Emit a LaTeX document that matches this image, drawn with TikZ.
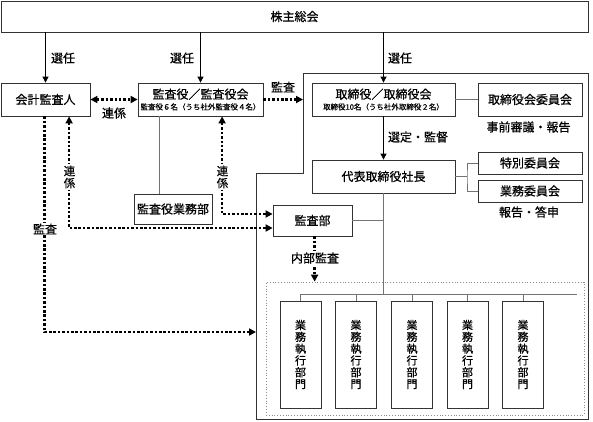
\documentclass[tikz,border=0pt]{standalone}
\usepackage{fontspec}
\setmainfont{Noto Sans CJK JP}[FakeBold=0.6]
\usetikzlibrary{arrows.meta}
\begin{document}
\begin{tikzpicture}[x=1pt,y=-1pt,
  box/.style={draw=black!80, line width=0.8pt, fill=white, inner sep=0pt, font=\fontsize{12}{14}\selectfont},
  unit/.style={box, minimum width=41pt, minimum height=107pt, align=center, font=\fontsize{11}{11.8}\selectfont},
  con/.style={draw=black!55, line width=0.8pt},
  outline/.style={draw=black!80, line width=0.8pt},
  arr/.style={draw=black, line width=0.8pt, -{Triangle[length=6pt,width=6pt]}},
  dot/.style={draw=black, line width=2.5pt, dash pattern=on 2.5pt off 1.9pt},
  dotarr/.style={dot, -{Triangle[length=7pt,width=7pt]}},
  dbl/.style={dot, {Triangle[length=7pt,width=7pt]}-{Triangle[length=7pt,width=7pt]}},
  lbl/.style={font=\fontsize{12}{14}\selectfont, inner sep=1pt},
  vlbl/.style={font=\fontsize{11.5}{12}\selectfont, inner sep=1.5pt, fill=white, align=center}
]
\useasboundingbox (0,0) rectangle (593,421);

% outer boundary of the executive area
\coordinate (ob1) at (303,73);
\coordinate (ob2) at (588,73);
\coordinate (ob3) at (588,419);
\coordinate (ob4) at (256,419);
\coordinate (ob5) at (256,173);
\coordinate (ob6) at (303,173);
\draw[outline] (ob1) -- (ob2) -- (ob3) -- (ob4) -- (ob5) -- (ob6) -- cycle;

% container of business units
\node[draw=black!45, dotted, line width=0.8pt, minimum width=318pt, minimum height=133pt, inner sep=0pt] (unitsbox) at (425,348.5) {};

% nodes
\node[box, minimum width=587pt, minimum height=31pt] (soukai) at (294.5,16.5) {株主総会};
\node[box, minimum width=89pt, minimum height=33pt] (kaikei) at (45.5,99.5) {会計監査人};
\node[box, minimum width=125pt, minimum height=33pt, align=center] (kansayaku) at (200.5,99.5)
  {監査役／監査役会\\[-3pt]{\fontsize{7.5}{9}\selectfont 監査役６名（うち社外監査役４名）}};
\node[box, minimum width=143pt, minimum height=33pt, align=center] (torishimari) at (383.5,99.5)
  {取締役／取締役会\\[-3pt]{\fontsize{7.5}{9}\selectfont 取締役10名（うち社外取締役２名）}};
\node[box, minimum width=104pt, minimum height=33pt] (iinkai) at (530,99.5) {取締役会委員会};
\node[box, minimum width=143pt, minimum height=33pt] (shacho) at (383.5,176.5) {代表取締役社長};
\node[box, minimum width=104pt, minimum height=22pt] (tokubetsu) at (530,163) {特別委員会};
\node[box, minimum width=104pt, minimum height=22pt] (gyomu) at (530,191) {業務委員会};
\node[box, minimum width=78pt, minimum height=30pt] (kansagyomu) at (173,209) {監査役業務部};
\node[box, minimum width=79pt, minimum height=31pt] (kansabu) at (312.5,220.5) {監査部};
\foreach \i/\x in {1/300.5,2/356,3/412,4/467.5,5/523}
  \node[unit] (u\i) at (\x,354.5) {業\\務\\執\\行\\部\\門};

% solid connectors
\draw[arr] (soukai.south -| kaikei.north) -- (kaikei.north);
\draw[arr] (soukai.south -| kansayaku.north) -- (kansayaku.north);
\draw[arr] (soukai.south -| torishimari.north) -- (torishimari.north);
\draw[con] (torishimari.east) -- (iinkai.west);
\draw[arr] (torishimari.south) -- (shacho.north);
\coordinate (sj) at (467,176.5);
\draw[con] (shacho.east) -- (sj);
\draw[con] (tokubetsu.west) -| (sj) |- (gyomu.west);
\path (kansagyomu.north west) ++(26,0) coordinate (kg);
\draw[con] (kg) -- (kg |- kansayaku.south);
\coordinate (bus) at (383.5,294);
\coordinate (busR) at (577,294);
\draw[con] (shacho.south) -- (bus);
\draw[con] (u1.north |- bus) -- (busR);
\foreach \i in {1,...,5} \draw[con] (u\i.north |- bus) -- (u\i.north);
\draw[con] (kansabu.east) -- (kansabu.east -| bus);

% dotted connectors
\draw[dbl] (kaikei.east) -- (kansayaku.west);
\draw[dotarr] (kansayaku.east) -- (kansayaku.east -| ob1);
\path (kansabu.west) ++(0,-6.5) coordinate (kbwA);
\path (kansabu.west) ++(0,7.5) coordinate (kbwB);
\path (kaikei.south west) ++(68.5,0) coordinate (kr);
\path (kaikei.south west) ++(44,0) coordinate (kl);
\path (kansayaku.south west) ++(84.5,0) coordinate (ksr);
\path (kansabu.south west) ++(42,0) coordinate (ks);
\coordinate (obL) at (256,332);
\draw[dbl] (kr) |- (kbwB);
\draw[dbl] (ksr) |- (kbwA);
\draw[dotarr] (kl) |- (obL);
\draw[dotarr] (ks) -- (ks |- unitsbox.north);

% labels
\node[lbl] (l1) at (63,58) {選任};
\node[lbl] (l2) at (182,58) {選任};
\node[lbl] (l3) at (400,58) {選任};
\node[lbl] (l4) at (283,87) {監査};
\node[lbl] (l5) at (114,113) {連係};
\node[lbl] (l6) at (528.5,127) {事前審議・報告};
\node[lbl] (l7) at (418,137) {選定・監督};
\node[lbl] (l8) at (529,212) {報告・答申};
\node[vlbl] (l9) at (69.5,177) {連\\係};
\node[vlbl] (l10) at (222.5,177) {連\\係};
\node[lbl, fill=white] (l11) at (45,229) {監査};
\node[lbl, fill=white] (l12) at (315,258) {内部監査};
\end{tikzpicture}
\end{document}
